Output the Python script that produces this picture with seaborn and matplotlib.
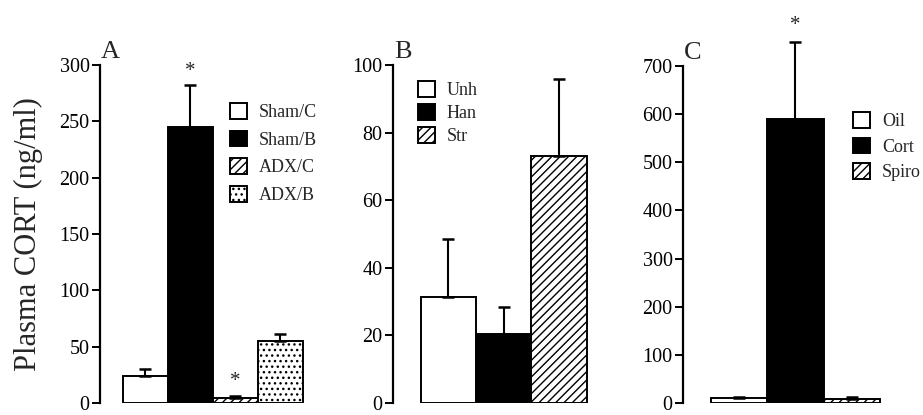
import matplotlib
matplotlib.use("Agg")
import matplotlib.pyplot as plt
import matplotlib.transforms as mtrans
import seaborn as sns
import numpy as np
from matplotlib.patches import Patch

# ---- data ----
cats_a = ["Sham/C", "Sham/B", "ADX/C", "ADX/B"]
vals_a = [24, 245, 4, 55]
err_a = [6, 37, 2.5, 6.5]
star_a = [False, True, True, False]

cats_b = ["Unh", "Han", "Str"]
vals_b = [31.5, 20.5, 73]
err_b = [17, 8, 23]

cats_c = ["Oil", "Cort", "Spiro"]
vals_c = [10, 590, 9]
err_c = [1.5, 160, 3]
star_c = [False, True, False]

ylabel = "Plasma CORT (ng/ml)"

sns.set_style("white")
plt.rcParams["font.family"] = ["Liberation Serif", "DejaVu Serif"]
plt.rcParams["hatch.linewidth"] = 1.0

W, H = 923, 415
fig = plt.figure(figsize=(W / 100, H / 100), dpi=100)


def px_axes(left, right, y0, ytop):
    return fig.add_axes([left / W, 1 - y0 / H, (right - left) / W, (y0 - ytop) / H])


styles_a = [("white", ""), ("black", ""), ("white", "////"), ("white", "...")]
styles_b = [("white", ""), ("black", ""), ("white", "////")]
styles_c = [("white", ""), ("black", ""), ("white", "////")]


def panel(ax, cats, vals, errs, styles, ylim, yticks, xlim, letter, stars=None, star_off=0):
    sns.barplot(x=cats, y=vals, hue=cats, palette=[s[0] for s in styles],
                width=1.0, edgecolor="black", linewidth=1.4, errorbar=None,
                legend=False, ax=ax)
    for p, (fc, h) in zip(ax.patches, styles):
        p.set_facecolor(fc)
        p.set_hatch(h)
        p.set_edgecolor("black")
    xs = np.arange(len(vals))
    ax.errorbar(xs, vals, yerr=[np.zeros(len(vals)), errs], fmt="none",
                ecolor="black", elinewidth=1.5, capsize=4, capthick=1.8,
                clip_on=False, zorder=3)
    if stars is not None:
        for x, v, e, s in zip(xs, vals, errs, stars):
            if s:
                ax.text(x, v + e + star_off, "*", ha="center", va="bottom",
                        fontsize=15, clip_on=False)
    ax.set_xlim(*xlim)
    ax.set_ylim(*ylim)
    ax.set_yticks(yticks)
    ax.set_xticks([])
    ax.set_xlabel("")
    for s in ["top", "right", "bottom"]:
        ax.spines[s].set_visible(False)
    ax.spines["left"].set_linewidth(1.6)
    ax.spines["left"].set_color("black")
    ax.tick_params(axis="y", direction="out", length=6, width=1.4,
                   labelsize=14.5, left=True, pad=1.5, colors="black")
    ax.patch.set_alpha(0)
    off = mtrans.ScaledTranslation(1 / 100, 7 / 100, fig.dpi_scale_trans)
    ax.text(0.0, 1.0, letter, transform=ax.transAxes + off, fontsize=19,
            ha="left", va="baseline")


def legend(ax, cats, styles, x, ytop, spacing):
    hs = [Patch(facecolor=fc, edgecolor="black", hatch=h, linewidth=1.4, label=c)
          for c, (fc, h) in zip(cats, styles)]
    ax.legend(handles=hs, loc="upper left", bbox_to_anchor=(x / W, 1 - ytop / H),
              bbox_transform=fig.transFigure, frameon=False, fontsize=13,
              handlelength=0.95, handleheight=0.95, handletextpad=0.65,
              labelspacing=spacing, borderpad=0, borderaxespad=0)


# Panel A
axA = px_axes(100, 310, 403, 65)
panel(axA, cats_a, vals_a, err_a, styles_a, (0, 300), range(0, 301, 50),
      (-1.01, 3.66), "A", star_a, 4)
axA.set_ylabel(ylabel, fontsize=22)
axA.yaxis.label.set_verticalalignment("center")
axA.yaxis.set_label_coords(-0.34, 0.5)
legend(axA, cats_a, styles_a, 230, 103, 0.54)

# Panel B
axB = px_axes(393, 600, 403, 65)
panel(axB, cats_b, vals_b, err_b, styles_b, (0, 100), range(0, 101, 20),
      (-1.0, 2.74), "B")
legend(axB, cats_b, styles_b, 418, 81, 0.28)

# Panel C
axC = px_axes(683, 923, 403, 66)
panel(axC, cats_c, vals_c, err_c, styles_c, (0, 700), range(0, 701, 100),
      (-0.99, 3.26), "C", star_c, 14)
legend(axC, cats_c, styles_c, 853, 112, 0.42)

fig.savefig("out.png", dpi=100)
